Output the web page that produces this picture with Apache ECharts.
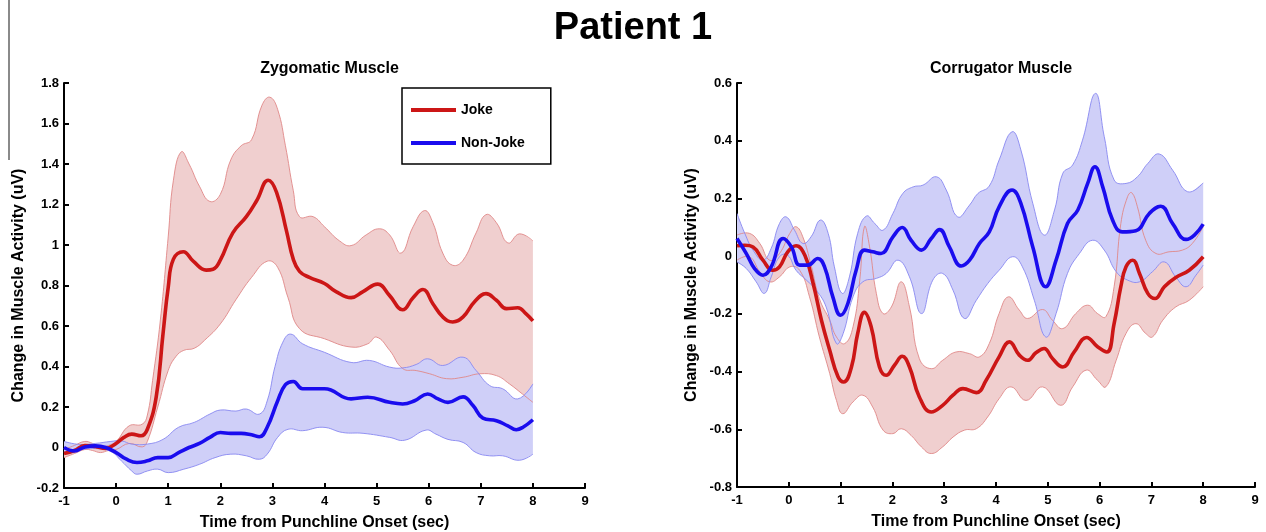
<!DOCTYPE html>
<html><head><meta charset="utf-8">
<script src="https://cdn.jsdelivr.net/npm/echarts@6/dist/echarts.min.js"></script>
<style>html,body{margin:0;padding:0;background:#fff}#c{width:1266px;height:532px}</style>
</head><body><div id="c"></div>
<script>
// ---------- data (time in sec, value in uV) ----------
const zygJokeMean = [[-1,-0.03],[-0.8,-0.015],[-0.6,0.01],[-0.4,0.005],[-0.2,-0.005],[0,0.02],[0.15,0.05],[0.3,0.066],[0.48,0.058],[0.6,0.09],[0.77,0.25],[0.9,0.56],[1.0,0.79],[1.1,0.93],[1.29,0.967],[1.48,0.92],[1.73,0.876],[1.86,0.88],[2.0,0.925],[2.24,1.06],[2.5,1.14],[2.7,1.22],[2.92,1.32],[3.08,1.26],[3.27,1.07],[3.4,0.93],[3.52,0.87],[3.71,0.84],[4,0.81],[4.22,0.77],[4.51,0.74],[4.74,0.77],[5.02,0.807],[5.25,0.75],[5.5,0.68],[5.7,0.74],[5.89,0.78],[6.08,0.71],[6.27,0.645],[6.46,0.62],[6.66,0.645],[6.88,0.72],[7.1,0.76],[7.3,0.727],[7.49,0.686],[7.71,0.69],[7.87,0.66],[8,0.625]];
const zygJokeUpper = [[-1,-0.01],[-0.8,0.01],[-0.6,0.03],[-0.45,0.02],[-0.3,0.005],[-0.15,0.01],[0,0.03],[0.25,0.107],[0.5,0.115],[0.6,0.16],[0.7,0.33],[0.85,0.63],[1.0,1.04],[1.1,1.32],[1.25,1.46],[1.4,1.4],[1.6,1.29],[1.8,1.215],[2,1.25],[2.2,1.42],[2.4,1.49],[2.6,1.52],[2.8,1.69],[2.95,1.73],[3.1,1.67],[3.25,1.49],[3.4,1.27],[3.52,1.14],[3.78,1.14],[4,1.09],[4.29,1.02],[4.51,0.997],[4.8,1.05],[5.05,1.08],[5.25,1.05],[5.47,0.96],[5.7,1.09],[5.92,1.17],[6.08,1.11],[6.27,0.96],[6.46,0.9],[6.66,0.925],[6.91,1.06],[7.1,1.15],[7.3,1.11],[7.52,1.01],[7.74,1.055],[8,1.02]];
const zygJokeLower = [[-1,-0.05],[-0.8,-0.03],[-0.6,-0.01],[-0.45,-0.015],[-0.3,-0.025],[-0.15,-0.015],[0,-0.01],[0.25,0.02],[0.5,0.003],[0.6,0.03],[0.8,0.2],[1.0,0.38],[1.15,0.45],[1.3,0.48],[1.5,0.49],[1.7,0.53],[2,0.61],[2.3,0.73],[2.6,0.84],[2.9,0.92],[3.1,0.89],[3.3,0.74],[3.52,0.587],[4,0.537],[4.51,0.496],[4.83,0.512],[5,0.545],[5.25,0.48],[5.5,0.39],[5.76,0.38],[6.02,0.364],[6.34,0.34],[6.66,0.347],[6.98,0.364],[7.3,0.355],[7.55,0.314],[7.8,0.264],[8,0.223]];
const zygNonJokeMean = [[-1,0],[-0.8,-0.017],[-0.6,0.003],[-0.4,0.008],[-0.2,0],[0,-0.025],[0.2,-0.058],[0.4,-0.074],[0.6,-0.066],[0.8,-0.05],[1.0,-0.05],[1.2,-0.025],[1.4,0],[1.6,0.02],[1.8,0.05],[2,0.074],[2.2,0.07],[2.4,0.07],[2.6,0.063],[2.75,0.053],[2.9,0.1],[3.1,0.23],[3.25,0.31],[3.4,0.326],[3.58,0.29],[4,0.29],[4.51,0.24],[4.83,0.248],[5.25,0.223],[5.5,0.215],[5.73,0.231],[5.98,0.264],[6.18,0.24],[6.37,0.223],[6.66,0.25],[6.85,0.207],[7.04,0.145],[7.3,0.132],[7.52,0.107],[7.68,0.088],[7.81,0.1],[8,0.137]];
const zygNonJokeUpper = [[-1,0.03],[-0.7,0.015],[-0.4,0.02],[-0.1,0.03],[0.1,0.033],[0.3,0.017],[0.6,0.017],[0.9,0.04],[1.2,0.1],[1.5,0.124],[1.8,0.165],[2,0.185],[2.3,0.18],[2.5,0.19],[2.75,0.165],[2.9,0.23],[3.05,0.4],[3.2,0.52],[3.35,0.56],[3.58,0.512],[4,0.47],[4.51,0.42],[4.86,0.43],[5.25,0.397],[5.5,0.393],[5.76,0.41],[5.98,0.438],[6.27,0.405],[6.66,0.446],[6.91,0.38],[7.17,0.306],[7.42,0.29],[7.71,0.24],[8,0.314]];
const zygNonJokeLower = [[-1,-0.02],[-0.7,-0.01],[-0.4,-0.005],[-0.1,-0.02],[0.1,-0.066],[0.3,-0.116],[0.4,-0.132],[0.6,-0.116],[0.8,-0.107],[1.0,-0.124],[1.3,-0.107],[1.6,-0.083],[1.9,-0.05],[2.2,-0.033],[2.5,-0.041],[2.75,-0.058],[2.9,-0.033],[3.1,0.05],[3.3,0.09],[3.58,0.083],[3.97,0.1],[4.35,0.074],[4.74,0.07],[5.25,0.05],[5.54,0.036],[5.95,0.086],[6.14,0.066],[6.37,0.04],[6.66,0.025],[6.91,-0.025],[7.17,-0.041],[7.42,-0.041],[7.74,-0.063],[8,-0.033]];

const corJokeMean = [[-1,0.036],[-0.85,0.038],[-0.69,0.032],[-0.5,-0.014],[-0.31,-0.049],[-0.18,-0.037],[-0.02,0.015],[0.14,0.036],[0.31,0.003],[0.47,-0.095],[0.63,-0.222],[0.79,-0.326],[0.95,-0.418],[1.06,-0.436],[1.21,-0.384],[1.33,-0.268],[1.46,-0.195],[1.59,-0.245],[1.75,-0.384],[1.88,-0.413],[2.04,-0.378],[2.19,-0.347],[2.33,-0.384],[2.52,-0.488],[2.75,-0.54],[2.97,-0.517],[3.17,-0.482],[3.36,-0.459],[3.62,-0.473],[3.81,-0.43],[4.06,-0.349],[4.26,-0.297],[4.45,-0.343],[4.61,-0.361],[4.77,-0.335],[4.93,-0.32],[5.09,-0.355],[5.29,-0.384],[5.51,-0.332],[5.75,-0.282],[5.96,-0.314],[6.14,-0.332],[6.28,-0.234],[6.41,-0.106],[6.51,-0.037],[6.64,-0.014],[6.77,-0.06],[6.93,-0.129],[7.07,-0.147],[7.25,-0.106],[7.47,-0.074],[7.73,-0.049],[8,-0.002]];
const corJokeUpper = [[-1,0.073],[-0.76,0.079],[-0.56,0.044],[-0.37,-0.014],[-0.18,0.009],[0.02,0.079],[0.14,0.102],[0.27,0.067],[0.43,-0.031],[0.59,-0.147],[0.79,-0.222],[0.92,-0.28],[1.08,-0.303],[1.24,-0.245],[1.37,-0.083],[1.46,0.102],[1.56,0.032],[1.69,-0.129],[1.82,-0.199],[1.98,-0.176],[2.17,-0.089],[2.33,-0.176],[2.52,-0.355],[2.75,-0.39],[2.97,-0.361],[3.23,-0.332],[3.49,-0.338],[3.68,-0.349],[3.87,-0.303],[4.06,-0.199],[4.24,-0.141],[4.45,-0.187],[4.61,-0.216],[4.9,-0.185],[5.09,-0.222],[5.29,-0.251],[5.54,-0.199],[5.77,-0.17],[5.96,-0.199],[6.12,-0.21],[6.28,-0.106],[6.41,0.113],[6.54,0.206],[6.62,0.22],[6.73,0.171],[6.89,0.055],[7.09,0.009],[7.34,0.015],[7.6,0.021],[7.79,0.044],[8,0.102]];
const corJokeLower = [[-1,-0.014],[-0.76,-0.002],[-0.56,-0.054],[-0.37,-0.089],[-0.18,-0.072],[0.02,-0.037],[0.21,-0.049],[0.4,-0.141],[0.59,-0.28],[0.79,-0.407],[0.92,-0.5],[1.04,-0.546],[1.24,-0.505],[1.43,-0.482],[1.62,-0.523],[1.82,-0.603],[2.01,-0.615],[2.17,-0.598],[2.36,-0.621],[2.56,-0.661],[2.75,-0.684],[2.97,-0.661],[3.17,-0.627],[3.39,-0.603],[3.62,-0.598],[3.84,-0.557],[4.06,-0.494],[4.29,-0.453],[4.58,-0.5],[4.9,-0.453],[5.25,-0.517],[5.48,-0.453],[5.74,-0.395],[5.96,-0.43],[6.12,-0.453],[6.32,-0.361],[6.51,-0.268],[6.7,-0.234],[6.89,-0.268],[7.02,-0.28],[7.22,-0.222],[7.47,-0.176],[7.73,-0.153],[8,-0.106]];
const corNonJokeMean = [[-1,0.061],[-0.82,0.009],[-0.66,-0.043],[-0.5,-0.066],[-0.34,-0.037],[-0.11,0.061],[0.05,0.032],[0.21,-0.031],[0.37,-0.031],[0.56,-0.008],[0.69,-0.037],[0.85,-0.141],[1.0,-0.205],[1.14,-0.164],[1.3,-0.049],[1.46,0.021],[1.62,0.015],[1.78,0.009],[2.01,0.067],[2.19,0.099],[2.36,0.055],[2.56,0.021],[2.75,0.061],[2.91,0.092],[3.1,0.032],[3.33,-0.034],[3.49,-0.014],[3.68,0.044],[3.87,0.084],[4.06,0.171],[4.31,0.229],[4.48,0.183],[4.71,0.032],[4.96,-0.106],[5.16,-0.014],[5.38,0.113],[5.58,0.16],[5.77,0.252],[5.91,0.31],[6.06,0.24],[6.25,0.125],[6.44,0.084],[6.7,0.088],[6.96,0.148],[7.18,0.173],[7.41,0.113],[7.67,0.058],[7.83,0.073],[8,0.111]];
const corNonJokeUpper = [[-1,0.148],[-0.85,0.079],[-0.69,0.021],[-0.5,-0.014],[-0.34,0.027],[-0.18,0.113],[-0.05,0.136],[0.11,0.09],[0.27,0.044],[0.43,0.067],[0.61,0.125],[0.76,0.079],[0.88,-0.037],[1.03,-0.129],[1.17,-0.072],[1.33,0.079],[1.5,0.139],[1.66,0.113],[1.82,0.09],[2.01,0.148],[2.2,0.217],[2.4,0.24],[2.59,0.246],[2.85,0.275],[3.04,0.229],[3.26,0.136],[3.49,0.177],[3.65,0.217],[3.87,0.243],[4.06,0.333],[4.31,0.431],[4.48,0.368],[4.71,0.183],[4.93,0.073],[5.13,0.16],[5.29,0.287],[5.48,0.316],[5.67,0.402],[5.92,0.564],[6.09,0.414],[6.28,0.264],[6.51,0.252],[6.73,0.275],[6.93,0.321],[7.15,0.354],[7.41,0.298],[7.7,0.223],[8,0.254]];
const corNonJokeLower = [[-1,-0.02],[-0.82,-0.043],[-0.63,-0.089],[-0.47,-0.129],[-0.34,-0.072],[-0.18,-0.002],[-0.02,0.003],[0.14,-0.049],[0.34,-0.083],[0.53,-0.118],[0.72,-0.176],[0.92,-0.303],[1.05,-0.268],[1.24,-0.141],[1.43,-0.089],[1.69,-0.077],[1.88,-0.06],[2.11,-0.014],[2.33,-0.072],[2.56,-0.199],[2.78,-0.083],[2.97,-0.06],[3.17,-0.118],[3.39,-0.216],[3.62,-0.153],[3.84,-0.095],[4.06,-0.049],[4.32,-0.002],[4.51,-0.037],[4.74,-0.153],[4.96,-0.28],[5.16,-0.199],[5.38,-0.06],[5.61,0.009],[5.86,0.055],[6.09,0.021],[6.32,-0.054],[6.54,-0.083],[6.77,-0.089],[7.02,-0.054],[7.25,-0.02],[7.47,-0.072],[7.67,-0.106],[7.86,-0.066],[8,-0.031]];

const seriesNames = ['Joke', 'Non-Joke'];
const panelTitles = ['Zygomatic Muscle', 'Corrugator Muscle'];
const figureTitle = 'Patient 1';
const xAxisTitle = 'Time from Punchline Onset (sec)';
const yAxisTitle = 'Change in Muscle Activity (uV)';

// ---------- styling ----------
const FONT = "'Liberation Sans', Arial, Helvetica, sans-serif";
const RED = '#CC1616', BLUE = '#1A0CEE';
const RED_FILL = '#F0CFCF', BLUE_FILL = '#CFCFF8';
const RED_EDGE = '#E08888', BLUE_EDGE = '#8888F0';
const SM = 0.45;

function bandFill(upper, lower, fill, gi, z) {
  return {
    type: 'custom', xAxisIndex: gi, yAxisIndex: gi, silent: true, z: z, clip: true,
    data: [upper[0]],
    renderItem: function (params, api) {
      const up = upper.map(p => api.coord(p));
      const lo = lower.map(p => api.coord(p)).reverse();
      const pts = [up[0]].concat(up, [up[up.length - 1]], [lo[0]], lo, [lo[lo.length - 1]]);
      return { type: 'polygon', shape: { points: pts, smooth: SM }, style: { fill: fill, stroke: null } };
    }
  };
}
function bandEdges(upper, lower, color, gi, z) {
  return {
    type: 'custom', xAxisIndex: gi, yAxisIndex: gi, silent: true, z: z, clip: true,
    data: [upper[0]],
    renderItem: function (params, api) {
      const up = upper.map(p => api.coord(p));
      const lo = lower.map(p => api.coord(p));
      return { type: 'group', children: [
        { type: 'polyline', shape: { points: up, smooth: SM }, style: { stroke: color, lineWidth: 0.9, fill: null } },
        { type: 'polyline', shape: { points: lo, smooth: SM }, style: { stroke: color, lineWidth: 0.9, fill: null } }
      ]};
    }
  };
}
function meanLine(name, data, color, gi) {
  return { type: 'line', name: name, xAxisIndex: gi, yAxisIndex: gi, data: data, smooth: SM,
    showSymbol: false, symbol: 'none', color: color, silent: true, z: 10,
    lineStyle: { color: color, width: 3.6 }, emphasis: { disabled: true } };
}
function xAxis(gi) {
  return { gridIndex: gi, type: 'value', min: -1, max: 9, interval: 1,
    axisLine: { onZero: false, lineStyle: { color: '#000', width: 2 } },
    axisTick: { inside: true, length: 5, lineStyle: { color: '#000', width: 2 } },
    axisLabel: { color: '#000', fontFamily: FONT, fontWeight: 'bold', fontSize: 13, margin: 7 },
    splitLine: { show: false },
    name: xAxisTitle, nameLocation: 'middle', nameGap: 27,
    nameTextStyle: { color: '#000', fontFamily: FONT, fontWeight: 'bold', fontSize: 16 } };
}
function yAxis(gi, min, max) {
  return { gridIndex: gi, type: 'value', min: min, max: max, interval: 0.2,
    axisLine: { show: true, onZero: false, lineStyle: { color: '#000', width: 2 } },
    axisTick: { show: true, inside: true, length: 5, lineStyle: { color: '#000', width: 2 } },
    axisLabel: { color: '#000', fontFamily: FONT, fontWeight: 'bold', fontSize: 13, margin: 5 },
    splitLine: { show: false },
    name: yAxisTitle, nameLocation: 'middle', nameGap: 37,
    nameTextStyle: { color: '#000', fontFamily: FONT, fontWeight: 'bold', fontSize: 16 } };
}

const chart = echarts.init(document.getElementById('c'), null, { renderer: 'canvas' });
chart.setOption({
  animation: false,
  backgroundColor: '#fff',
  title: [
    { text: figureTitle, left: 628, top: 5, textAlign: 'center', textStyle: { fontFamily: FONT, fontWeight: 'bold', fontSize: 38, color: '#000' } },
    { text: panelTitles[0], left: 324.5, top: 56, textAlign: 'center', textStyle: { fontFamily: FONT, fontWeight: 'bold', fontSize: 16, color: '#000' } },
    { text: panelTitles[1], left: 996, top: 56, textAlign: 'center', textStyle: { fontFamily: FONT, fontWeight: 'bold', fontSize: 16, color: '#000' } }
  ],
  grid: [
    { left: 64, top: 83, width: 521, height: 405, containLabel: false, outerBoundsMode: 'none' },
    { left: 737, top: 83, width: 518, height: 404, containLabel: false, outerBoundsMode: 'none' }
  ],
  xAxis: [xAxis(0), xAxis(1)],
  yAxis: [yAxis(0, -0.2, 1.8), yAxis(1, -0.8, 0.6)],
  legend: {
    data: seriesNames, orient: 'vertical', left: 402, top: 88,
    icon: 'rect', itemWidth: 45, itemHeight: 4, itemGap: 19,
    padding: [15, 26, 14, 9], borderColor: '#000', borderWidth: 1.5, backgroundColor: '#fff',
    selectedMode: false,
    textStyle: { fontFamily: FONT, fontWeight: 'bold', fontSize: 14, color: '#000' }
  },
  graphic: [
    { type: 'rect', shape: { x: 8, y: 0, width: 2, height: 160 }, style: { fill: '#8a8a8a' }, silent: true }
  ],
  series: [
    bandFill(zygJokeUpper, zygJokeLower, RED_FILL, 0, 1),
    bandFill(zygNonJokeUpper, zygNonJokeLower, BLUE_FILL, 0, 2),
    bandEdges(zygJokeUpper, zygJokeLower, RED_EDGE, 0, 3),
    bandEdges(zygNonJokeUpper, zygNonJokeLower, BLUE_EDGE, 0, 4),
    meanLine(seriesNames[0], zygJokeMean, RED, 0),
    meanLine(seriesNames[1], zygNonJokeMean, BLUE, 0),
    bandFill(corJokeUpper, corJokeLower, RED_FILL, 1, 1),
    bandFill(corNonJokeUpper, corNonJokeLower, BLUE_FILL, 1, 2),
    bandEdges(corJokeUpper, corJokeLower, RED_EDGE, 1, 3),
    bandEdges(corNonJokeUpper, corNonJokeLower, BLUE_EDGE, 1, 4),
    meanLine(seriesNames[0], corJokeMean, RED, 1),
    meanLine(seriesNames[1], corNonJokeMean, BLUE, 1)
  ]
});
</script>
</body></html>
